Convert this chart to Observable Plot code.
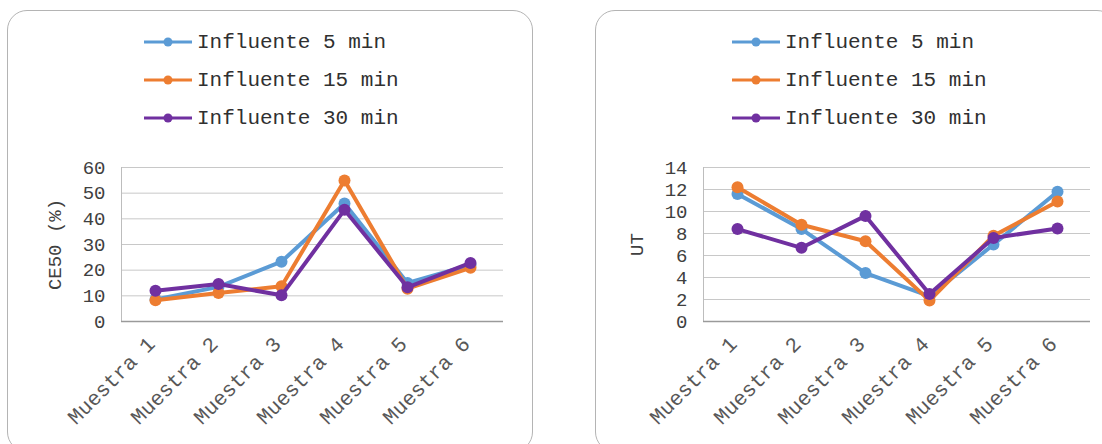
<!DOCTYPE html>
<html><head><meta charset="utf-8">
<script src="https://cdn.jsdelivr.net/npm/d3@7"></script>
<script src="https://cdn.jsdelivr.net/npm/@observablehq/plot@0.6"></script>
<style>
body{margin:0;background:#fff;width:1102px;height:444px;overflow:hidden;position:relative;font-family:"Liberation Mono","Courier New",monospace;}
.panel{position:absolute;top:10px;height:442px;border:1px solid #b4b4b4;border-radius:20px;box-sizing:border-box;}
.row{position:absolute;height:20px;display:flex;align-items:center;white-space:nowrap;font-size:21px;color:#303030;}
.row svg{margin-right:5px;}
.chart{position:absolute;top:150px;}
</style></head><body>
<div class="panel" style="left:7px;width:526px"></div>
<div class="panel" style="left:595px;width:522px"></div>
<div id="leg1"></div><div id="leg2"></div>
<div id="c1" class="chart" style="left:8px"></div>
<div id="c2" class="chart" style="left:595px"></div>
<script>
const categories = ["Muestra 1","Muestra 2","Muestra 3","Muestra 4","Muestra 5","Muestra 6"];
const series = ["Influente 5 min","Influente 15 min","Influente 30 min"];
const colors = ["#5B9BD5","#ED7D31","#7030A0"];
const ce50_5  = [8.6, 13.5, 23.3, 46.0, 15.0, 22.0];
const ce50_15 = [8.3, 11.1, 13.7, 54.9, 12.8, 20.9];
const ce50_30 = [12.0, 14.6, 10.2, 43.5, 13.3, 22.8];
const ut_5  = [11.6, 8.4, 4.4, 2.3, 7.0, 11.8];
const ut_15 = [12.2, 8.8, 7.3, 1.9, 7.8, 10.9];
const ut_30 = [8.4, 6.7, 9.6, 2.5, 7.6, 8.45];
const ce50Ticks = [0,10,20,30,40,50,60];
const utTicks = [0,2,4,6,8,10,12,14];

function legend(id, left){
  const el = document.getElementById(id);
  const ys = [42, 80, 118];
  series.forEach((s,i)=>{
    const r = document.createElement("div");
    r.className = "row";
    r.style.left = left + "px";
    r.style.top = (ys[i]-10) + "px";
    r.innerHTML = `<svg width="48" height="14"><line x1="0" x2="48" y1="7" y2="7" stroke="${colors[i]}" stroke-width="3"/><circle cx="24" cy="7" r="4.5" fill="${colors[i]}"/></svg><span>${s}</span>`;
    el.appendChild(r);
  });
}
legend("leg1", 144);
legend("leg2", 732);

function chart(vals, ticks, label, width, marginLeft, marginRight){
  const data = [];
  series.forEach((s,i)=>categories.forEach((c,j)=>data.push({series:s, cat:c, value:vals[i][j]})));
  const marks = [
    Plot.gridY(ticks, {stroke:"#c8c8c8", strokeOpacity:1}),
    Plot.frame({anchor:"left", stroke:"#bdbdbd"}),
    Plot.ruleY([0], {stroke:"#9a9a9a", strokeWidth:1.5}),
  ];
  series.forEach(s=>{
    const d = data.filter(e=>e.series===s);
    marks.push(Plot.line(d, {x:"cat", y:"value", stroke:"series", strokeWidth:4, strokeLinejoin:"round"}));
    marks.push(Plot.dot(d, {x:"cat", y:"value", fill:"series", r:6}));
  });
  marks.push(Plot.axisY(ticks, {tickSize:0, tickPadding:16, label, labelAnchor:"center", labelOffset:74, labelArrow:"none", fill:"#404040"}));
  marks.push(Plot.axisX({tickSize:0, tickRotate:-45, tickPadding:19, dx:-4, fontSize:21, label:null, fill:"#585858"}));
  return Plot.plot({
    width, height:290, marginTop:17, marginBottom:119, marginLeft, marginRight,
    style:{fontFamily:'"Liberation Mono","Courier New",monospace', fontSize:"19px", background:"transparent", overflow:"visible"},
    x:{type:"point", domain:categories, padding:0.5},
    y:{domain:[ticks[0], ticks[ticks.length-1]]},
    color:{domain:series, range:colors},
    marks
  });
}
document.getElementById("c1").appendChild(chart([ce50_5, ce50_15, ce50_30], ce50Ticks, "CE50 (%)", 524, 113, 29));
document.getElementById("c2").appendChild(chart([ut_5, ut_15, ut_30], utTicks, "UT", 507, 108, 12));
</script>
</body></html>
